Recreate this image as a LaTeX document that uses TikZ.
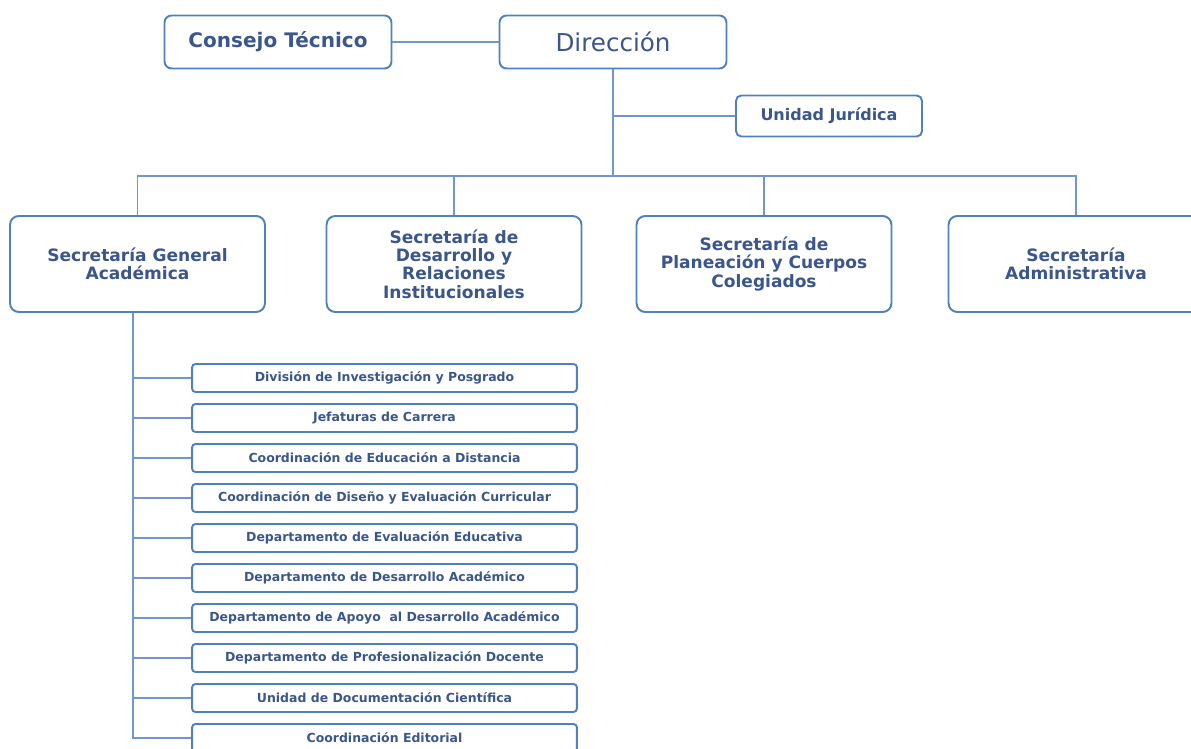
\documentclass[tikz,border=0pt]{standalone}
\usepackage{fontspec}
\setmainfont{DejaVu Sans}
\usetikzlibrary{positioning}
\usetikzlibrary{calc}
\definecolor{boxblue}{RGB}{79,129,189}
\definecolor{lineblue}{RGB}{112,150,205}
\definecolor{txtblue}{RGB}{58,86,140}
\tikzstyle{box}=[draw=boxblue,line width=1.1pt,fill=white,text=txtblue,align=center,inner sep=1pt]
\tikzstyle{topbox}=[box,rounded corners=4pt,minimum width=4.54cm,minimum height=1.06cm]
\tikzstyle{secbox}=[box,rounded corners=5pt,minimum width=5.1cm,minimum height=1.92cm,font=\bfseries\fontsize{9.7}{10.4}\selectfont]
\tikzstyle{subbox}=[box,rounded corners=2pt,minimum width=7.7cm,minimum height=0.56cm,font=\bfseries\fontsize{7.1}{8}\selectfont]
\tikzstyle{link}=[draw=lineblue,line width=0.9pt]

\begin{document}
\begin{tikzpicture}[x=0.02cm,y=-0.02cm]
\useasboundingbox (0,0) rectangle (1191,749);

%Top
    \node[topbox,font=\bfseries\fontsize{11.4}{12}\selectfont] (ct) at (278,42) {Consejo Técnico};
    \node[topbox,font=\fontsize{14}{15}\selectfont] (dir) at (613,42) {Dirección};
    \node[box,rounded corners=3pt,minimum width=3.72cm,minimum height=0.82cm,font=\bfseries\fontsize{9.1}{10}\selectfont] (uj) at (829,116) {Unidad Jurídica};
    \coordinate (bus) at (613,176);

%Secretarias
    \foreach \pos/\name/\label in {{(137.5,264)/sga/Secretaría General\\Académica}, {(454,264)/sdr/Secretaría de\\Desarrollo y\\Relaciones\\Institucionales}, {(764,264)/spc/Secretaría de\\Planeación y Cuerpos\\Colegiados}, {(1076,264)/sad/Secretaría\\Administrativa}}
        \node[secbox] (\name) at \pos {\label};

%Dependencias
    \foreach \y/\name/\label in {378/d1/División de Investigación y Posgrado, 418/d2/Jefaturas de Carrera, 458/d3/Coordinación de Educación a Distancia, 498/d4/Coordinación de Diseño y Evaluación Curricular, 538/d5/Departamento de Evaluación Educativa, 578/d6/Departamento de Desarrollo Académico, 618/d7/Departamento de Apoyo~ al Desarrollo Académico, 658/d8/Departamento de Profesionalización Docente, 698/d9/Unidad de Documentación Científica, 738/d10/Coordinación Editorial}
        \node[subbox] (\name) at (384.5,\y) {\label};

%Links
    \draw[link] (ct) -- (dir);
    \draw[link] (dir) -- (bus);
    \draw[link] (uj.west) -- (uj.west -| dir.south);
    \foreach \name in {sga,sdr,spc,sad}
        \draw[link] (\name.north) |- (bus);
    \coordinate (trunk) at ($(sga.south)+(-4.5,0)$);
    \draw[link] (trunk) |- (d10.west);
    \foreach \name in {d1,d2,d3,d4,d5,d6,d7,d8,d9}
        \draw[link] (\name.west) -- (\name.west -| trunk);

\end{tikzpicture}
\end{document}
